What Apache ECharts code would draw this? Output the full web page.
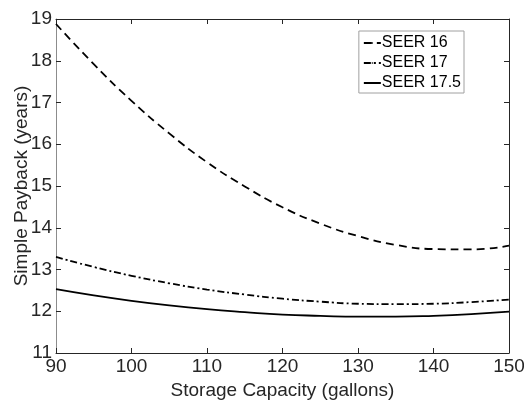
<!DOCTYPE html>
<html>
<head>
<meta charset="utf-8">
<script src="https://cdn.jsdelivr.net/npm/echarts@6/dist/echarts.min.js"></script>
<style>
html,body{margin:0;padding:0;background:#fff;}
#main{width:524px;height:402px;}
</style>
</head>
<body>
<div id="main"></div>
<script>
// storage capacity (gallons)
var capacity = [90, 95, 100, 105, 110, 115, 120, 125, 130, 135, 140, 145, 150];
// simple payback (years)
var seer16  = [18.88, 17.92, 17.04, 16.26, 15.57, 14.99, 14.49, 14.10, 13.80, 13.59, 13.49, 13.48, 13.57];
var seer17  = [13.30, 13.06, 12.85, 12.67, 12.52, 12.40, 12.30, 12.23, 12.18, 12.17, 12.18, 12.22, 12.28];
var seer175 = [12.53, 12.38, 12.25, 12.14, 12.05, 11.98, 11.92, 11.89, 11.87, 11.87, 11.89, 11.93, 11.99];
var names = ['SEER 16', 'SEER 17', 'SEER 17.5'];

function pairs(ys){
    var out = [];
    for (var i = 0; i < capacity.length; i++) out.push([capacity[i], ys[i]]);
    return out;
}

var txt = '#262626';
var font = 'Liberation Sans, Arial, sans-serif';
var chart = echarts.init(document.getElementById('main'));

function lineSeries(name, ys, type){
    return {
        name: name, type: 'line', data: pairs(ys), symbol: 'none', smooth: 0.5,
        lineStyle: {color: '#000', width: 1.8, type: type},
        itemStyle: {color: '#000'},
        animation: false
    };
}

chart.setOption({
    animation: false,
    grid: {left: 56, right: 15, top: 19, bottom: 49, containLabel: false, outerBoundsMode: 'none'},
    legend: {
        right: 60, top: 31, orient: 'vertical',
        backgroundColor: '#fff', borderColor: '#a0a0a0', borderWidth: 1,
        padding: [4, 3, 2, 4], itemGap: 4, itemWidth: 17, itemHeight: 2,
        textStyle: {color: '#000', fontSize: 16, lineHeight: 16, fontFamily: font, padding: [0, 0, 0, -4]},
        data: names
    },
    xAxis: [{
        type: 'value', min: 90, max: 150, interval: 10,
        name: 'Storage Capacity (gallons)', nameLocation: 'middle', nameGap: 27,
        nameTextStyle: {color: txt, fontSize: 19, fontFamily: font},
        axisLine: {lineStyle: {color: txt, width: 1}},
        axisTick: {inside: true, length: 5, lineStyle: {color: txt}},
        axisLabel: {color: txt, fontSize: 19, fontFamily: font, margin: 4},
        splitLine: {show: false}
    }, {
        type: 'value', position: 'top', min: 90, max: 150, interval: 10,
        axisLine: {lineStyle: {color: txt, width: 1}},
        axisTick: {inside: true, length: 5, lineStyle: {color: txt}},
        axisLabel: {show: false}, splitLine: {show: false}
    }],
    yAxis: [{
        type: 'value', min: 11, max: 19, interval: 1,
        name: 'Simple Payback (years)', nameLocation: 'middle', nameGap: 25, nameMoveOverlap: false,
        nameTextStyle: {color: txt, fontSize: 19, fontFamily: font},
        axisLine: {show: true, lineStyle: {color: '#8c8c8c', width: 1}},
        axisTick: {show: true, inside: true, length: 5, lineStyle: {color: txt}},
        axisLabel: {color: txt, fontSize: 19, fontFamily: font, margin: 4},
        splitLine: {show: false}
    }, {
        type: 'value', position: 'right', min: 11, max: 19, interval: 1,
        axisLine: {show: true, lineStyle: {color: txt, width: 1}},
        axisTick: {show: true, inside: true, length: 5, lineStyle: {color: txt}},
        axisLabel: {show: false}, splitLine: {show: false}
    }],
    series: [
        lineSeries(names[0], seer16, [8, 5]),
        lineSeries(names[1], seer17, [7, 3, 2, 3]),
        lineSeries(names[2], seer175, 'solid')
    ]
});
</script>
</body>
</html>
